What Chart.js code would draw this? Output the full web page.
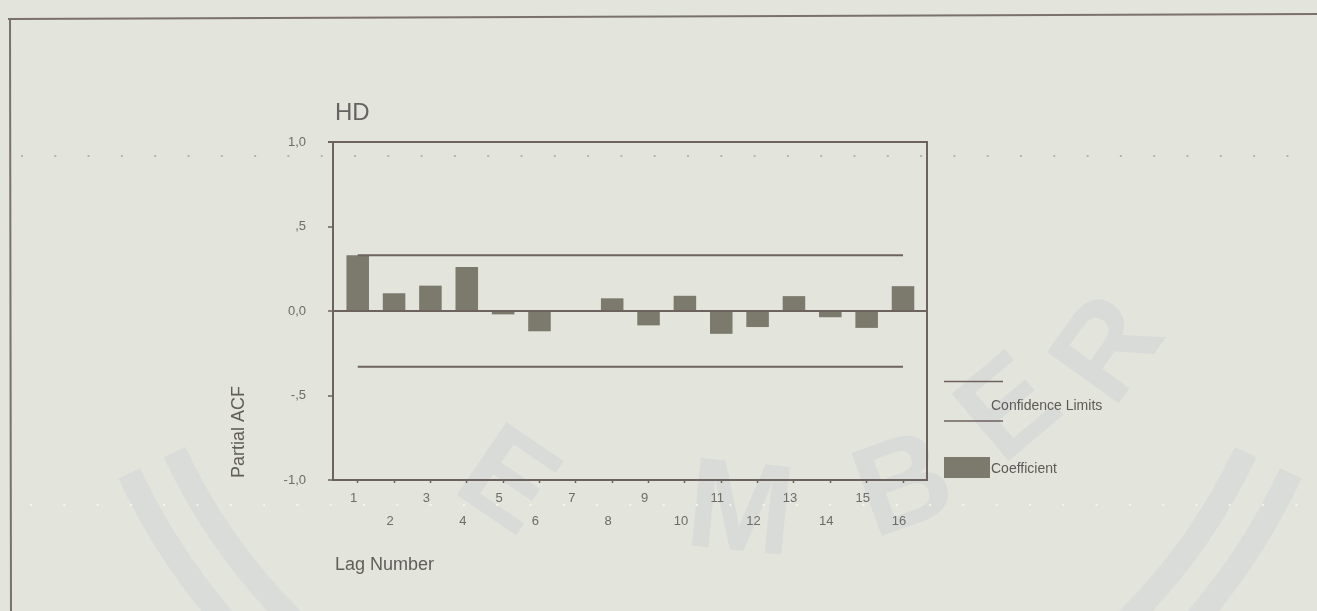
<!DOCTYPE html>
<html>
<head>
<meta charset="utf-8">
<script src="https://cdn.jsdelivr.net/npm/chart.js@4.4.1/dist/chart.umd.min.js"></script>
<style>
  html, body { margin: 0; padding: 0; background: #e3e4dc; overflow: hidden; }
  canvas { display: block; }
</style>
</head>
<body>
<canvas id="pacf" width="1317" height="611"></canvas>
<script>
// Partial autocorrelation of series HD, lags 1..16
const lags = [1, 2, 3, 4, 5, 6, 7, 8, 9, 10, 11, 12, 13, 14, 15, 16];
const pacf = [0.33, 0.105, 0.15, 0.26, -0.02, -0.12, 0.0, 0.075,
              -0.085, 0.09, -0.135, -0.095, 0.088, -0.037, -0.10, 0.147];
const upperLimit = 0.33;
const lowerLimit = -0.33;
const yTickValues = [-1, -0.5, 0, 0.5, 1];
const yTickLabels = ['-1,0', '-,5', '0,0', ',5', '1,0'];

const INK = '#6d625d';
const BAR = '#7c7a6d';
const TEXT = '#6e6c69';
const FONT = '"Liberation Sans", Arial, sans-serif';

const paperPlugin = {
  id: 'paper',
  beforeDraw(chart) {
    const { ctx, width, height } = chart;
    ctx.save();
    ctx.fillStyle = '#e3e4dc';
    ctx.fillRect(0, 0, width, height);

    // faint watermark of the page: lower part of a double ring and lettering
    ctx.strokeStyle = 'rgba(170,182,200,0.16)';
    ctx.lineWidth = 24;
    [592, 642].forEach(r => {
      ctx.beginPath();
      ctx.arc(710, 200, r, Math.PI * 0.14, Math.PI * 0.86);
      ctx.stroke();
    });
    ctx.fillStyle = 'rgba(170,182,200,0.19)';
    ctx.font = 'bold 128px ' + FONT;
    ctx.textAlign = 'center';
    ctx.textBaseline = 'middle';
    const marks = [['E', 505, 485, 0.6], ['M', 740, 515, 0.1], ['B', 905, 490, -0.35],
                   ['E', 1012, 412, -0.7], ['R', 1112, 352, -0.95]];
    marks.forEach(([ch, x, y, r]) => {
      ctx.save();
      ctx.translate(x, y);
      ctx.rotate(r);
      ctx.fillText(ch, 0, 0);
      ctx.restore();
    });

    // page frame
    ctx.strokeStyle = '#7a706c';
    ctx.lineWidth = 2;
    ctx.beginPath();
    ctx.moveTo(8, 19);
    ctx.lineTo(width, 14);
    ctx.moveTo(10, 19);
    ctx.lineTo(11, height);
    ctx.stroke();
    // dotted rules
    ctx.fillStyle = 'rgba(150,150,140,0.6)';
    for (let x = 21; x < width; x += 33.3) ctx.fillRect(x, 155, 2, 2);
    ctx.fillStyle = 'rgba(255,250,240,0.75)';
    for (let x = 30; x < width; x += 33.3) ctx.fillRect(x, 504, 2, 2);
    ctx.restore();
  }
};

const framePlugin = {
  id: 'frame',
  afterDatasetsDraw(chart) {
    const { ctx, chartArea: a } = chart;
    ctx.save();
    ctx.strokeStyle = INK;
    ctx.lineWidth = 2;
    ctx.beginPath();
    ctx.moveTo(a.left - 5, a.top);
    ctx.lineTo(a.right, a.top);
    ctx.lineTo(a.right, a.bottom);
    ctx.stroke();

    // title
    ctx.fillStyle = '#666462';
    ctx.font = '24px ' + FONT;
    ctx.textAlign = 'left';
    ctx.textBaseline = 'alphabetic';
    ctx.fillText('HD', a.left + 2, 120);

    // axis titles
    ctx.fillStyle = '#615d5a';
    ctx.font = '18px ' + FONT;
    ctx.fillText('Lag Number', a.left + 2, 570);
    ctx.save();
    ctx.translate(244, 478);
    ctx.rotate(-Math.PI / 2);
    ctx.fillText('Partial ACF', 0, 0);
    ctx.restore();

    // legend
    ctx.strokeStyle = INK;
    ctx.lineWidth = 1.5;
    ctx.beginPath();
    ctx.moveTo(944, 381.5);
    ctx.lineTo(1003, 381.5);
    ctx.moveTo(944, 421);
    ctx.lineTo(1003, 421);
    ctx.stroke();
    ctx.fillStyle = BAR;
    ctx.fillRect(944, 457, 46, 21);
    ctx.fillStyle = '#5e5a57';
    ctx.font = '14px ' + FONT;
    ctx.textBaseline = 'middle';
    ctx.fillText('Confidence Limits', 991, 406);
    ctx.fillText('Coefficient', 991, 469);
    ctx.restore();
  }
};

new Chart(document.getElementById('pacf'), {
  type: 'bar',
  data: {
    datasets: [
      {
        type: 'line',
        label: 'Confidence Limits',
        data: [{ x: lags[0], y: upperLimit }, { x: lags[lags.length - 1], y: upperLimit }],
        borderColor: INK,
        borderWidth: 2,
        pointRadius: 0,
        fill: false
      },
      {
        type: 'line',
        label: 'Confidence Limits',
        data: [{ x: lags[0], y: lowerLimit }, { x: lags[lags.length - 1], y: lowerLimit }],
        borderColor: INK,
        borderWidth: 2,
        pointRadius: 0,
        fill: false
      },
      {
        type: 'bar',
        label: 'Coefficient',
        data: lags.map((l, i) => ({ x: l, y: pacf[i] })),
        backgroundColor: BAR,
        borderWidth: 0,
        barPercentage: 0.62,
        categoryPercentage: 1
      }
    ]
  },
  options: {
    responsive: false,
    animation: false,
    devicePixelRatio: 1,
    layout: { padding: { left: 283, right: 390, top: 142, bottom: 71 } },
    plugins: { legend: { display: false }, tooltip: { enabled: false }, title: { display: false } },
    scales: {
      x: {
        type: 'linear',
        offset: false,
        min: 0.32,
        max: 16.66,
        afterFit(scale) { scale.height = 60; },
        afterBuildTicks(scale) { scale.ticks = lags.map(v => ({ value: v })); },
        border: { display: true, color: INK, width: 2 },
        grid: { offset: false, drawOnChartArea: false, drawTicks: true, tickLength: 3, tickColor: INK, tickWidth: 1.5 },
        ticks: {
          color: TEXT,
          font: { family: FONT, size: 13, lineHeight: 1.75 },
          padding: 4,
          labelOffset: -4,
          maxRotation: 0,
          autoSkip: false,
          callback: v => (v % 2 ? [String(v)] : ['', String(v)])
        }
      },
      y: {
        min: -1,
        max: 1,
        afterFit(scale) { scale.width = 50; },
        afterBuildTicks(scale) { scale.ticks = yTickValues.map(v => ({ value: v })); },
        border: { display: true, color: INK, width: 2 },
        grid: {
          drawOnChartArea: true,
          drawTicks: true,
          tickLength: 5,
          tickColor: INK,
          tickWidth: 1.5,
          color: c => (c.tick && c.tick.value === 0 ? INK : 'rgba(0,0,0,0)'),
          lineWidth: c => (c.tick && c.tick.value === 0 ? 2 : 0)
        },
        ticks: {
          color: TEXT,
          font: { family: FONT, size: 13 },
          padding: 22,
          callback: v => yTickLabels[yTickValues.indexOf(v)]
        }
      }
    }
  },
  plugins: [paperPlugin, framePlugin]
});
</script>
</body>
</html>
